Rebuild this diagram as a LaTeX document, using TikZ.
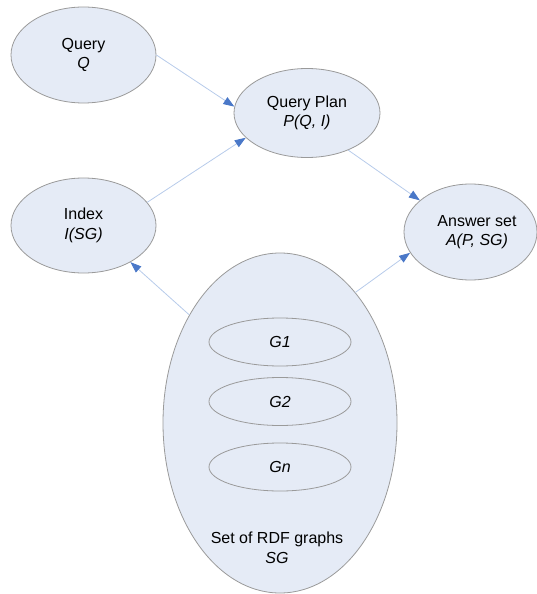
\documentclass[tikz,border=0pt]{standalone}
\usepackage{fontspec}
\setmainfont{Liberation Sans}
\usetikzlibrary{shapes.geometric,arrows.meta}
\definecolor{ellfill}{HTML}{E5EBF6}
\definecolor{ellline}{HTML}{9A9A9A}
\definecolor{conline}{HTML}{B7CBEA}
\definecolor{arrowblue}{HTML}{4A78C8}
\tikzset{
  ell/.style={ellipse, draw=ellline, line width=0.8bp, fill=ellfill, inner sep=0pt, align=center,
    font=\fontsize{16bp}{19.5bp}\selectfont},
  inner/.style={ellipse, draw=ellline, line width=0.8bp, inner sep=0pt,
    minimum width=142bp, minimum height=48bp, font=\fontsize{16bp}{19.5bp}\selectfont\itshape},
  lbl/.style={inner sep=0pt, align=center, font=\fontsize{16bp}{19.5bp}\selectfont},
  con/.style={draw=conline, line width=0.8bp, -{Triangle[length=11bp,width=8bp,color=arrowblue]}}
}
\begin{document}
\begin{tikzpicture}[x=1bp,y=-1bp]
\useasboundingbox (0,0) rectangle (537,594);
\node[ell, minimum width=145bp, minimum height=96bp] (query) at (83.5,55) {Query\\\textit{Q}};
\node[ell, minimum width=146bp, minimum height=89bp] (plan) at (307,113) {Query Plan\\\textit{P(Q, I)}};
\node[ell, minimum width=145bp, minimum height=95bp] (index) at (83.5,225.5) {Index\\\textit{I(SG)}};
\node[ell, minimum width=133bp, minimum height=96bp] (answer) at (470.5,232) {};
\node[lbl] (answertext) at (477,232) {Answer set\\\textit{A(P, SG)}};
\node[ell, minimum width=234bp, minimum height=340bp] (sg) at (280,423) {};
\node[inner] (g1) at (280,342) {G1};
\node[inner] (g2) at (280,401.5) {G2};
\node[inner] (gn) at (280,467) {Gn};
\node[lbl] (sgtext) at (277,548) {Set of RDF graphs\\\textit{SG}};
\draw[con] (query.0) -- (plan.175);
\draw[con] (index.20) -- (plan.202);
\draw[con] (plan.318) -- (answer.148.5);
\draw[con] (sg.130) -- (index.322);
\draw[con] (sg.60) -- (answer.199);
\end{tikzpicture}
\end{document}
